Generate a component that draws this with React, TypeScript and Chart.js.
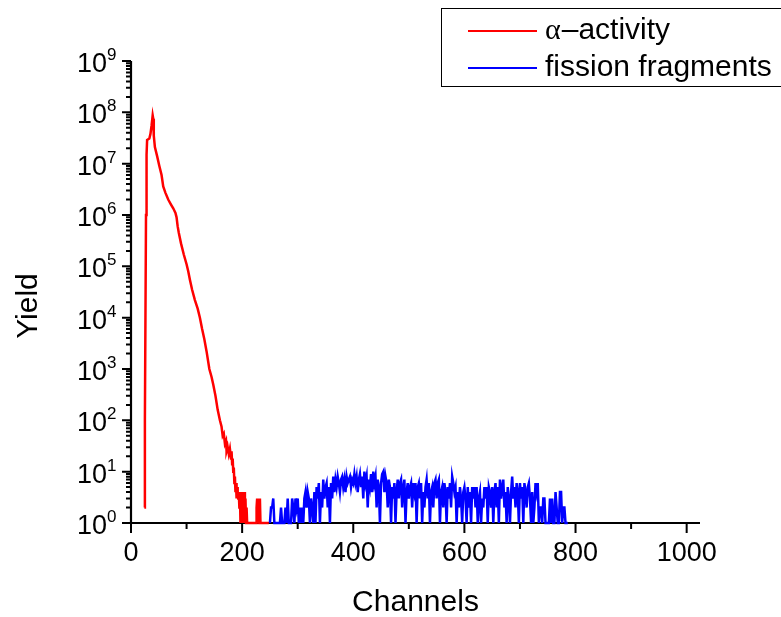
import React, { useEffect, useRef } from "react";
import { Chart, registerables } from "chart.js";

Chart.register(...registerables);

// α-activity spectrum (channel, yield)
const alphaChannels = [
  24, 25, 26, 27, 28, 29, 31, 33, 35, 37, 39, 40, 41, 43, 47, 51, 55, 58, 62, 67,
  72, 76, 80, 82, 84, 86, 90, 95, 100, 103, 106, 110, 115, 120, 124, 128, 132, 136, 141, 145,
  148, 152, 156, 160, 163, 165, 167, 169, 171, 172, 174, 176, 178, 180, 181, 182, 183, 184, 185, 186,
  187, 188, 189, 190, 191, 192, 193, 194, 195, 196, 197, 198, 199, 200, 201, 202, 203, 204, 205, 206,
  207, 208, 209, 214, 220, 225, 226, 227, 228, 229, 230, 231, 232, 233, 234, 238, 244, 248,
];
const alphaYield = [
  2, 100, 1e4, 1e6, 1.5e7, 2.9e7, 3e7, 3.1e7, 3.8e7, 5.5e7, 8.7e7, 7.5e7, 3.5e7, 2.1e7, 1.4e7, 9e6, 6e6, 3.6e6, 2.7e6, 2e6,
  1.6e6, 1.35e6, 1.1e6, 9e5, 6e5, 4.5e5, 2.8e5, 1.7e5, 1.1e5, 8e4, 5.5e4, 3.5e4, 2.2e4, 1.5e4, 1e4, 6e3, 3.8e3, 2.2e3, 1e3, 700,
  500, 300, 160, 100, 75, 50, 55, 35, 40, 25, 30, 22, 28, 18, 25, 14, 18, 10, 12, 6,
  8, 4, 6, 3, 5, 4, 3, 4, 2, 4, 1, 3, 1, 4, 1, 2, 1, 4, 1, 3,
  1, 2, 1, 1, 1, 1, 2, 3, 1, 2, 3, 1, 3, 1, 1, 1, 1, 1,
];

// fission fragments: channels start at 250, every 2 channels
const fissionFirstChannel = 250;
const fissionChannelStep = 2;
const fissionYield = [
  1, 2, 2, 3, 1, 1, 1, 1, 1, 1, 2, 1, 1, 1, 2, 1, 3, 1, 1, 1,
  3, 2, 1, 3, 2, 3, 1, 2, 1, 2, 1, 3, 4, 2, 4, 3, 1, 3, 2, 1,
  4, 1, 5, 3, 6, 1, 4, 2, 7, 3, 5, 6, 2, 5, 1, 6, 3, 8, 4, 7,
  5, 8, 6, 4, 7, 8, 5, 7, 4, 8, 6, 7, 8, 5, 7, 6, 9, 6, 8, 4,
  7, 9, 5, 8, 3, 10, 6, 8, 2, 7, 5, 9, 4, 10, 6, 8, 2, 7, 5, 1,
  6, 9, 10, 4, 8, 6, 2, 7, 5, 1, 5, 3, 6, 1, 4, 7, 3, 6, 7, 2,
  5, 7, 1, 4, 6, 3, 5, 6, 2, 6, 4, 6, 1, 5, 6, 3, 6, 1, 4, 2,
  5, 7, 3, 6, 1, 4, 5, 2, 6, 7, 3, 6, 7, 1, 4, 5, 2, 6, 4, 1,
  5, 3, 6, 2, 8, 6, 4, 5, 1, 4, 2, 5, 3, 1, 4, 5, 3, 1, 5, 2,
  4, 1, 5, 3, 5, 2, 5, 1, 3, 4, 1, 3, 2, 5, 3, 5, 1, 5, 4, 2,
  5, 1, 4, 6, 2, 5, 1, 7, 3, 5, 7, 2, 4, 1, 5, 3, 1, 4, 8, 3,
  5, 2, 6, 4, 1, 6, 3, 5, 1, 6, 4, 2, 5, 6, 3, 1, 4, 1, 2, 6,
  4, 6, 1, 2, 2, 1, 3, 3, 1, 1, 1, 1, 3, 1, 3, 1, 1, 4, 2, 1,
  1, 4, 4, 1, 2, 2, 1, 1, 1,
];

const xMajorTicks = [0, 200, 400, 600, 800, 1000];
const xMinorTicks = [100, 300, 500, 700, 900];
const yExponents = [0, 1, 2, 3, 4, 5, 6, 7, 8, 9];

const legendLabels = ["α–activity", "fission fragments"];
const xTitle = "Channels";
const yTitle = "Yield";

const SANS = '"Liberation Sans", Arial, sans-serif';

const axesPlugin = {
  id: "originAxes",
  beforeDatasetsDraw(chart: any) {
    const ctx = chart.ctx as CanvasRenderingContext2D;
    const { left, right, top, bottom } = chart.chartArea;
    const xs = chart.scales.x;
    const ys = chart.scales.y;
    ctx.save();
    ctx.strokeStyle = "#000";
    ctx.fillStyle = "#000";
    ctx.lineWidth = 2.2;
    // axis lines
    ctx.beginPath();
    ctx.moveTo(left, top);
    ctx.lineTo(left, bottom + 1);
    ctx.moveTo(left - 1, bottom);
    ctx.lineTo(right, bottom);
    ctx.stroke();
    // y ticks
    ctx.lineWidth = 2;
    ctx.beginPath();
    yExponents.forEach((e) => {
      const py = ys.getPixelForValue(Math.pow(10, e));
      ctx.moveTo(left - 9, py);
      ctx.lineTo(left, py);
      if (e < 9) {
        for (let k = 2; k <= 9; k++) {
          const pm = ys.getPixelForValue(k * Math.pow(10, e));
          ctx.moveTo(left - 5, pm);
          ctx.lineTo(left, pm);
        }
      }
    });
    // x ticks
    xMajorTicks.forEach((v) => {
      const px = xs.getPixelForValue(v);
      ctx.moveTo(px, bottom);
      ctx.lineTo(px, bottom + 10);
    });
    xMinorTicks.forEach((v) => {
      const px = xs.getPixelForValue(v);
      ctx.moveTo(px, bottom);
      ctx.lineTo(px, bottom + 6);
    });
    ctx.stroke();

    // y labels
    yExponents.forEach((e) => {
      const py = ys.getPixelForValue(Math.pow(10, e));
      ctx.font = `27px ${SANS}`;
      ctx.textAlign = "right";
      ctx.textBaseline = "alphabetic";
      ctx.fillText("10", left - 24, py + 11);
      ctx.font = `17px ${SANS}`;
      ctx.textAlign = "left";
      ctx.fillText(String(e), left - 24, py - 1);
    });
    // x labels
    ctx.font = `27px ${SANS}`;
    ctx.textAlign = "center";
    ctx.textBaseline = "alphabetic";
    xMajorTicks.forEach((v) => {
      const px = xs.getPixelForValue(v);
      ctx.fillText(String(v), px, bottom + 38);
    });
    // titles
    ctx.font = `30px ${SANS}`;
    ctx.fillText(xTitle, (left + right) / 2, bottom + 88);
    ctx.save();
    ctx.translate(37, 306);
    ctx.rotate(-Math.PI / 2);
    ctx.textAlign = "center";
    ctx.fillText(yTitle, 0, 0);
    ctx.restore();
    ctx.restore();
  },
  afterDraw(chart: any) {
    const ctx = chart.ctx as CanvasRenderingContext2D;
    const colors = chart.data.datasets.map((d: any) => d.borderColor);
    ctx.save();
    ctx.fillStyle = "#fff";
    ctx.fillRect(441.5, 8.5, 345, 78);
    ctx.strokeStyle = "#000";
    ctx.lineWidth = 1;
    ctx.strokeRect(441.5, 8.5, 345, 78);
    const rows = [
      { lineY: 31, baseY: 39 },
      { lineY: 68, baseY: 76 },
    ];
    rows.forEach((r, i) => {
      ctx.strokeStyle = colors[i];
      ctx.lineWidth = 2.2;
      ctx.beginPath();
      ctx.moveTo(468, r.lineY);
      ctx.lineTo(537, r.lineY);
      ctx.stroke();
      ctx.fillStyle = "#000";
      ctx.textAlign = "left";
      ctx.textBaseline = "alphabetic";
      const label = legendLabels[i];
      if (label.startsWith("α")) {
        ctx.font = `30px "Liberation Serif", "Times New Roman", serif`;
        ctx.fillText("α", 545, r.baseY);
        const w = ctx.measureText("α").width;
        ctx.font = `30px ${SANS}`;
        ctx.fillText(label.slice(1), 545 + w + 1, r.baseY);
      } else {
        ctx.font = `30px ${SANS}`;
        ctx.fillText(label, 545, r.baseY);
      }
    });
    ctx.restore();
  },
};

export default function App() {
  const canvasRef = useRef<HTMLCanvasElement | null>(null);

  useEffect(() => {
    const canvas = canvasRef.current;
    if (!canvas) return;
    const alphaData = alphaChannels.map((c, i) => ({ x: c, y: alphaYield[i] }));
    const fissionData = fissionYield.map((v, i) => ({
      x: fissionFirstChannel + i * fissionChannelStep,
      y: v,
    }));
    const chart = new Chart(canvas, {
      type: "line",
      data: {
        datasets: [
          {
            label: legendLabels[0],
            data: alphaData,
            borderColor: "#ff0000",
            borderWidth: 2.5,
            pointRadius: 0,
            tension: 0,
            fill: false,
            clip: 4,
          } as any,
          {
            label: legendLabels[1],
            data: fissionData,
            borderColor: "#0000ff",
            borderWidth: 2.5,
            pointRadius: 0,
            tension: 0,
            fill: false,
            clip: 4,
          } as any,
        ],
      },
      options: {
        responsive: false,
        animation: false,
        events: [],
        layout: { padding: { left: 131, right: 81, top: 61, bottom: 94 } },
        scales: {
          x: { type: "linear", min: 0, max: 1024, display: false },
          y: { type: "logarithmic", min: 1, max: 1e9, display: false },
        },
        plugins: {
          legend: { display: false },
          tooltip: { enabled: false },
        },
      },
      plugins: [axesPlugin],
    });
    return () => chart.destroy();
  }, []);

  return (
    <div style={{ position: "fixed", left: 0, top: 0, width: 781, height: 617, background: "#fff" }}>
      <canvas ref={canvasRef} width={781} height={617} style={{ display: "block", width: 781, height: 617 }} />
    </div>
  );
}
